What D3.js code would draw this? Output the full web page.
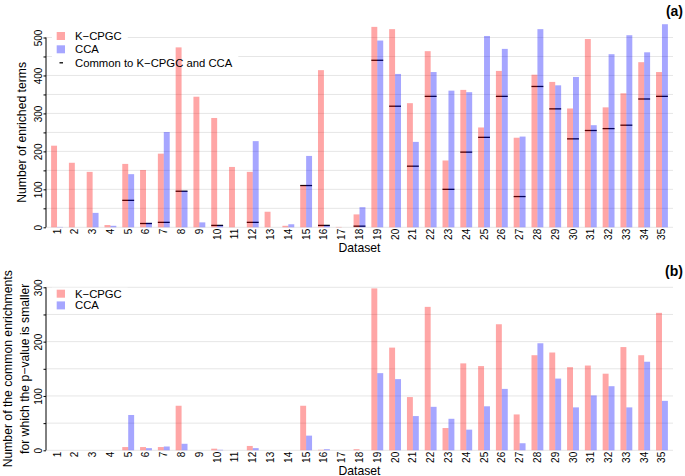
<!DOCTYPE html>
<html>
<head>
<meta charset="utf-8">
<script src="https://cdn.jsdelivr.net/npm/d3@7"></script>
<style>
  body { margin: 0; background: #fff; }
  svg { font-family: "Liberation Sans", Arial, sans-serif; }
</style>
</head>
<body>
<svg id="chart" width="685" height="476"></svg>
<script>
// datasets on the x axis
const datasets = ['1','2','3','4','5','6','7','8','9','10','11','12','13','14','15','16','17','18',
  '19','20','21','22','23','24','25','26','27','28','29','30','31','32','33','34','35'];

// (a) number of enriched terms
const kcpgcTerms = [215,170,146,6,167,151,194,474,344,288,159,146,41,4,110,414,1,34,
  528,522,327,464,176,362,263,412,236,402,383,313,496,316,353,435,409];
const ccaTerms = [1,0,38,4,140,12,251,96,13,5,0,227,0,8,188,5,0,53,
  492,404,225,409,360,356,504,470,239,522,374,396,269,456,506,461,535];
const commonTerms = [0,0,0,0,71,10,13,95,0,5,0,13,0,0,110,5,0,3,
  440,319,161,345,100,198,237,345,81,371,312,233,255,260,269,338,345];

// (b) common enrichments for which the p-value is smaller
const kcpgcSmaller = [0,0,0,0,6,6,6,82,0,3,0,8,0,0,82,1,0,2,
  298,189,98,264,41,160,155,232,66,175,180,153,156,141,190,175,253];
const ccaSmaller = [0,0,0,0,65,4,7,12,0,1,0,4,0,0,27,2,0,0,
  142,131,63,80,58,38,81,113,13,197,132,79,101,118,79,163,91];

const yTicksA = [0,100,200,300,400,500];
const yTicksB = [0,100,200,300];

const series = ['K\u2212CPGC', 'CCA'];
const colors = ['rgba(255,0,0,0.35)', 'rgba(0,0,255,0.35)'];

const svg = d3.select('#chart');
const left = 46, right = 673;

const x = d3.scaleBand()
  .domain(datasets)
  .range([left, right])
  .paddingInner(1 / 3)
  .paddingOuter(0.287);

const xs = d3.scaleBand().domain(series).range([0, x.bandwidth()]);

function panel(opts) {
  const { y, ticks, top, values, common, title, tag, tagY, legendRows, xTitleY } = opts;
  const g = svg.append('g');
  const y0 = y(0);

  // grid lines every 50
  g.append('g').selectAll('line')
    .data(d3.range(0, top + 1, 50))
    .join('line')
    .attr('x1', left).attr('x2', right)
    .attr('y1', d => y(d)).attr('y2', d => y(d))
    .attr('stroke', '#e6e6e6').attr('stroke-width', 1);

  // legend backgrounds hide grid lines
  const leg = g.append('g');

  // common segments drawn below translucent bars
  if (common) {
    g.append('g').selectAll('line')
      .data(datasets.filter((d, i) => common[i] > 0))
      .join('line')
      .attr('x1', d => x(d)).attr('x2', d => x(d) + x.bandwidth())
      .attr('y1', d => y(common[datasets.indexOf(d)]))
      .attr('y2', d => y(common[datasets.indexOf(d)]))
      .attr('stroke', '#000').attr('stroke-width', 1.3);
  }

  // bars
  series.forEach((s, k) => {
    g.append('g').selectAll('rect')
      .data(datasets)
      .join('rect')
      .attr('x', d => x(d) + xs(s))
      .attr('width', xs.bandwidth())
      .attr('y', (d, i) => y(values[k][i]))
      .attr('height', (d, i) => y0 - y(values[k][i]))
      .attr('fill', colors[k]);
  });

  // y axis
  const ax = g.append('g')
    .attr('transform', `translate(${left},0)`)
    .call(d3.axisLeft(y).tickValues(d3.range(0, top + 1, 50)).tickSize(2.5)
      .tickFormat(d => ticks.includes(d) ? d : ''));
  ax.select('.domain').attr('d', `M0,${y0}V${y(top)}`).attr('stroke', '#000');
  ax.selectAll('.tick line').attr('stroke', '#000');
  ax.selectAll('.tick text')
    .attr('transform', 'rotate(-90)')
    .attr('x', 0).attr('y', -4).attr('dy', 0)
    .attr('text-anchor', 'middle')
    .attr('font-size', 10).attr('fill', '#000')
    .attr('font-family', '"Liberation Sans", Arial, sans-serif');

  // x tick labels
  g.append('g').selectAll('text')
    .data(datasets)
    .join('text')
    .attr('transform', d => `translate(${x(d) + x.bandwidth() / 2 + 3.5},${y0 + 1.5}) rotate(-90)`)
    .attr('text-anchor', 'end')
    .attr('font-size', 10)
    .text(d => d);

  // x title
  g.append('text')
    .attr('x', (left + right) / 2).attr('y', xTitleY)
    .attr('text-anchor', 'middle').attr('font-size', 12.2)
    .text('Dataset');

  // y title
  const cy = (y0 + y(top)) / 2;
  const yt = g.append('text')
    .attr('transform', `translate(0,${cy}) rotate(-90)`)
    .attr('text-anchor', 'middle').attr('font-size', 12.2);
  title.forEach((t, i) => {
    yt.append('tspan').attr('x', 0)
      .attr('y', title.length === 1 ? 26 : 12 + i * 17)
      .text(t);
  });

  // panel tag
  g.append('text')
    .attr('x', 683).attr('y', tagY)
    .attr('text-anchor', 'end').attr('font-size', 14).attr('font-weight', 'bold')
    .text(tag);

  // legend
  legendRows.forEach((r, i) => {
    const t = leg.append('text')
      .attr('x', 75).attr('y', r.cy + 4)
      .attr('font-size', 11.3).text(r.label);
    const w = t.node().getComputedTextLength();
    t.remove();
    leg.append('rect')
      .attr('x', 52).attr('y', r.cy - r.h / 2)
      .attr('width', 75 + w + 6 - 52).attr('height', r.h)
      .attr('fill', '#fff');
  });
  const lg = g.append('g');
  legendRows.forEach(r => {
    if (r.kind === 'box') {
      lg.append('rect')
        .attr('x', 56.7).attr('y', r.cy - 4)
        .attr('width', 8.3).attr('height', 8)
        .attr('fill', r.color);
    } else {
      lg.append('line')
        .attr('x1', 59.5).attr('x2', 63)
        .attr('y1', r.cy).attr('y2', r.cy)
        .attr('stroke', '#000').attr('stroke-width', 1.3);
    }
    lg.append('text')
      .attr('x', 75).attr('y', r.cy + 4)
      .attr('font-size', 11.3).text(r.label);
  });
}

panel({
  y: d3.scaleLinear().domain([0, 500]).range([227.3, 37.5]),
  ticks: yTicksA,
  top: 500,
  values: [kcpgcTerms, ccaTerms],
  common: commonTerms,
  title: ['Number of enriched terms'],
  tag: '(a)', tagY: 16,
  xTitleY: 252,
  legendRows: [
    { label: series[0], kind: 'box', color: colors[0], cy: 36, h: 14 },
    { label: series[1], kind: 'box', color: colors[1], cy: 49.3, h: 14 },
    { label: 'Common to K\u2212CPGC and CCA', kind: 'line', cy: 62.8, h: 14 }
  ]
});

panel({
  y: d3.scaleLinear().domain([0, 300]).range([450.3, 287.3]),
  ticks: yTicksB,
  top: 300,
  values: [kcpgcSmaller, ccaSmaller],
  common: null,
  title: ['Number of the common enrichments', 'for which the p\u2212value is smaller'],
  tag: '(b)', tagY: 276,
  xTitleY: 474.5,
  legendRows: [
    { label: series[0], kind: 'box', color: colors[0], cy: 293.7, h: 12 },
    { label: series[1], kind: 'box', color: colors[1], cy: 305.4, h: 11 }
  ]
});
</script>
</body>
</html>
